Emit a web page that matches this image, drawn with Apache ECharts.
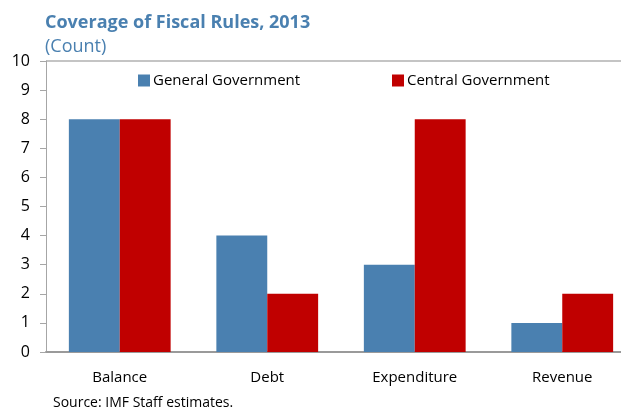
<!DOCTYPE html>
<html>
<head>
<meta charset="utf-8">
<script src="https://cdn.jsdelivr.net/npm/echarts@6/dist/echarts.min.js"></script>
<style>
  html, body { margin: 0; padding: 0; background: #fff; overflow: hidden; }
  #wrap { width: 621px; height: 409px; overflow: hidden; }
  /* the plot runs slightly past the right edge and is cut off there */
  #chart { width: 636px; height: 409px; }
</style>
</head>
<body>
<div id="wrap"><div id="chart"></div></div>
<script>
// Fiscal rules by type, counted by level of government
const categories = ['Balance', 'Debt', 'Expenditure', 'Revenue'];
const generalGov = [8, 4, 3, 1];
const centralGov = [8, 2, 8, 2];
const seriesNames = ['General Government', 'Central Government'];
const yTicks = { min: 0, max: 10, interval: 1 };

const FONT = '"Open Sans", "Noto Sans", sans-serif';
const BLUE = '#4a80b0';
const RED = '#c00000';

// only the top (max) gridline is visible
const splitColors = [];
for (let v = yTicks.min; v <= yTicks.max; v += yTicks.interval) {
  splitColors.push(v === yTicks.max ? '#c4c4c4' : 'rgba(0,0,0,0)');
}

const legendBase = {
  top: 73, padding: 0,
  itemWidth: 12, itemHeight: 12, itemGap: 4,
  icon: 'rect',
  textStyle: { fontFamily: FONT, fontSize: 15, color: '#000', padding: [0, 0, 0, -2] }
};

const chart = echarts.init(document.getElementById('chart'), null, { renderer: 'canvas' });
chart.setOption({
  animation: false,
  backgroundColor: '#ffffff',
  title: {
    text: 'Coverage of Fiscal Rules, 2013',
    subtext: '(Count)',
    left: 40,
    top: 9,
    padding: [5, 5, 5, 5],
    itemGap: 6,
    textStyle: { fontFamily: FONT, fontSize: 18, fontWeight: 'bold', color: BLUE },
    subtextStyle: { fontFamily: FONT, fontSize: 18, color: BLUE }
  },
  legend: [
    Object.assign({}, legendBase, { data: [seriesNames[0]], left: 138 }),
    Object.assign({}, legendBase, { data: [seriesNames[1]], left: 392 })
  ],
  grid: { left: 46, top: 61, right: 0, bottom: 57, containLabel: false },
  xAxis: {
    type: 'category',
    data: categories,
    axisLine: { show: true, lineStyle: { color: '#9a9a9a', width: 2 } },
    axisTick: { show: false },
    axisLabel: { fontFamily: FONT, fontSize: 15, color: '#000', margin: 18 }
  },
  yAxis: {
    type: 'value',
    min: yTicks.min, max: yTicks.max, interval: yTicks.interval,
    axisLine: { show: true, lineStyle: { color: '#a6a6a6', width: 1 } },
    axisTick: { show: true, length: 6, lineStyle: { color: '#a6a6a6' } },
    axisLabel: { fontFamily: FONT, fontSize: 16, color: '#000', margin: 16 },
    splitLine: { show: true, lineStyle: { color: splitColors, width: 2 } }
  },
  series: [
    {
      name: seriesNames[0], type: 'bar', data: generalGov,
      itemStyle: { color: BLUE },
      barGap: '0%', barCategoryGap: '31%'
    },
    {
      name: seriesNames[1], type: 'bar', data: centralGov,
      itemStyle: { color: RED },
      barGap: '0%', barCategoryGap: '31%'
    }
  ],
  graphic: [
    {
      type: 'text', left: 53, top: 396,
      style: { text: 'Source: IMF Staff estimates.', font: '14px ' + FONT, fill: '#000' }
    }
  ]
});
</script>
</body>
</html>
